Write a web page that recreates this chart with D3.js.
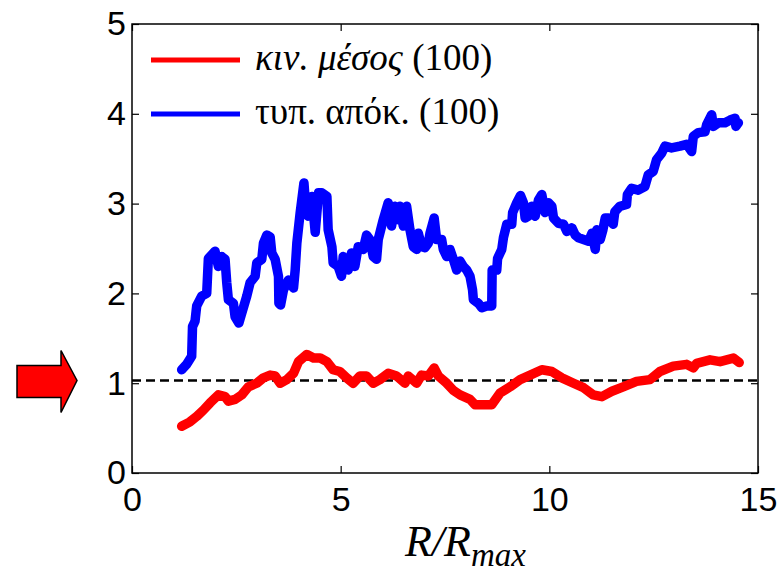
<!DOCTYPE html>
<html>
<head>
<meta charset="utf-8">
<script src="https://cdn.jsdelivr.net/npm/d3@7"></script>
<style>
  body { margin: 0; background: #fff; }
  svg { display: block; }
</style>
</head>
<body>
<script>
// moving mean (red) and std dev (blue)
const meanX = [1.19, 1.39, 1.55, 1.71, 1.87, 2.07, 2.23, 2.31, 2.47, 2.63, 2.79, 2.99, 3.15, 3.31, 3.43, 3.55, 3.71, 3.87, 3.99, 4.19, 4.35, 4.51, 4.67, 4.82, 4.98, 5.14, 5.30, 5.46, 5.62, 5.78, 5.94, 6.14, 6.34, 6.54, 6.62, 6.82, 6.94, 7.10, 7.24, 7.34, 7.54, 7.70, 7.86, 8.10, 8.22, 8.42, 8.62, 8.82, 9.06, 9.30, 9.54, 9.82, 10.06, 10.30, 10.58, 10.82, 11.05, 11.26, 11.50, 11.77, 12.09, 12.41, 12.65, 12.97, 13.29, 13.45, 13.53, 13.85, 14.09, 14.41, 14.55];
const meanY = [0.52, 0.57, 0.63, 0.70, 0.78, 0.87, 0.85, 0.80, 0.82, 0.87, 0.96, 1.00, 1.06, 1.09, 1.08, 1.00, 1.04, 1.11, 1.24, 1.32, 1.28, 1.28, 1.24, 1.15, 1.13, 1.06, 1.00, 1.08, 1.08, 1.00, 1.04, 1.11, 1.08, 1.00, 1.08, 1.00, 1.09, 1.08, 1.17, 1.08, 1.00, 0.92, 0.87, 0.82, 0.76, 0.76, 0.76, 0.89, 0.96, 1.04, 1.09, 1.15, 1.13, 1.06, 1.00, 0.95, 0.87, 0.85, 0.91, 0.96, 1.02, 1.04, 1.13, 1.19, 1.21, 1.17, 1.22, 1.26, 1.24, 1.28, 1.23];

const stdX = [1.19, 1.31, 1.43, 1.45, 1.51, 1.55, 1.67, 1.79, 1.83, 1.99, 2.07, 2.15, 2.23, 2.27, 2.31, 2.43, 2.47, 2.56, 2.63, 2.75, 2.83, 2.95, 2.99, 3.11, 3.15, 3.23, 3.31, 3.35, 3.43, 3.51, 3.52, 3.56, 3.63, 3.75, 3.87, 3.91, 3.95, 4.03, 4.12, 4.15, 4.22, 4.31, 4.39, 4.47, 4.55, 4.67, 4.70, 4.79, 4.82, 4.94, 5.02, 5.06, 5.18, 5.26, 5.34, 5.42, 5.54, 5.62, 5.70, 5.78, 5.86, 5.90, 6.02, 6.14, 6.22, 6.30, 6.38, 6.42, 6.50, 6.58, 6.66, 6.74, 6.82, 6.86, 6.94, 7.02, 7.10, 7.14, 7.24, 7.30, 7.42, 7.46, 7.54, 7.62, 7.70, 7.78, 7.86, 7.94, 8.02, 8.10, 8.16, 8.18, 8.30, 8.38, 8.50, 8.62, 8.63, 8.74, 8.76, 8.86, 8.90, 8.98, 9.10, 9.12, 9.22, 9.31, 9.38, 9.42, 9.50, 9.58, 9.66, 9.74, 9.82, 9.90, 9.98, 10.06, 10.10, 10.22, 10.34, 10.42, 10.54, 10.62, 10.70, 10.82, 10.94, 11.02, 11.10, 11.14, 11.22, 11.28, 11.34, 11.42, 11.53, 11.57, 11.69, 11.85, 11.87, 11.97, 12.13, 12.29, 12.37, 12.49, 12.57, 12.69, 12.77, 12.93, 13.13, 13.29, 13.41, 13.45, 13.57, 13.73, 13.77, 13.89, 13.93, 14.05, 14.21, 14.33, 14.45, 14.47, 14.53];
const stdY = [1.15, 1.21, 1.30, 1.63, 1.69, 1.86, 1.97, 2.00, 2.39, 2.47, 2.30, 2.41, 2.38, 2.12, 1.93, 1.89, 1.74, 1.67, 1.78, 1.97, 2.12, 2.19, 2.34, 2.38, 2.56, 2.65, 2.63, 2.45, 2.38, 2.19, 1.89, 1.87, 2.04, 2.15, 2.06, 2.26, 2.56, 2.90, 3.23, 3.04, 2.86, 3.08, 2.68, 3.12, 3.12, 3.08, 2.71, 2.52, 2.34, 2.30, 2.19, 2.41, 2.26, 2.45, 2.30, 2.52, 2.49, 2.65, 2.60, 2.41, 2.38, 2.60, 2.82, 3.01, 2.75, 2.97, 2.82, 2.97, 2.75, 2.97, 2.71, 2.52, 2.49, 2.67, 2.52, 2.51, 2.56, 2.67, 2.84, 2.60, 2.60, 2.49, 2.41, 2.49, 2.38, 2.26, 2.36, 2.30, 2.26, 2.19, 2.04, 1.93, 1.89, 1.84, 1.86, 1.86, 2.26, 2.26, 2.39, 2.49, 2.62, 2.77, 2.77, 2.90, 3.01, 3.09, 3.01, 2.84, 2.86, 2.97, 2.86, 3.04, 3.10, 2.90, 3.01, 2.97, 2.84, 2.78, 2.77, 2.69, 2.73, 2.65, 2.62, 2.60, 2.58, 2.67, 2.49, 2.71, 2.60, 2.70, 2.84, 2.84, 2.77, 2.91, 2.97, 2.99, 3.10, 3.17, 3.15, 3.19, 3.32, 3.36, 3.49, 3.56, 3.64, 3.62, 3.64, 3.66, 3.58, 3.75, 3.79, 3.80, 3.88, 3.99, 3.86, 3.90, 3.90, 3.93, 3.95, 3.86, 3.90];

const refLevel = 1.03;
const xTicks = [0, 5, 10, 15];
const yTicks = [0, 1, 2, 3, 4, 5];
const legendLabels = ["κιν. μέσος", "τυπ. απόκ."];

const W = 780, H = 574;
const m = { left: 132, right: 22, top: 24, bottom: 101 };

const svg = d3.select("body").append("svg")
    .attr("width", W)
    .attr("height", H);

const x = d3.scaleLinear().domain([0, 15]).range([m.left, W - m.right]);
const y = d3.scaleLinear().domain([0, 5]).range([H - m.bottom, m.top]);

const tickFont = "'Liberation Sans', Arial, sans-serif";

function styleAxis(g, labels) {
    g.select(".domain").remove();
    g.selectAll(".tick line").attr("stroke", "#000").attr("stroke-width", 1.2);
    g.selectAll(".tick text")
        .attr("font-family", tickFont)
        .attr("font-size", "34px")
        .attr("fill", "#000");
    if (!labels) g.selectAll(".tick text").remove();
}

svg.append("g")
    .attr("transform", `translate(0,${y(0)})`)
    .call(d3.axisBottom(x).tickValues(xTicks).tickFormat(d3.format("d")).tickSize(-7).tickPadding(14))
    .call(g => styleAxis(g, true));

svg.append("g")
    .attr("transform", `translate(0,${y(5)})`)
    .call(d3.axisTop(x).tickValues(xTicks).tickSize(-7))
    .call(g => styleAxis(g, false));

svg.append("g")
    .attr("transform", `translate(${x(0)},0)`)
    .call(d3.axisLeft(y).tickValues(yTicks).tickFormat(d3.format("d")).tickSize(-7).tickPadding(6))
    .call(g => styleAxis(g, true));

svg.append("g")
    .attr("transform", `translate(${x(15)},0)`)
    .call(d3.axisRight(y).tickValues(yTicks).tickSize(-7))
    .call(g => styleAxis(g, false));

// frame
svg.append("rect")
    .attr("x", x(0))
    .attr("y", y(5))
    .attr("width", x(15) - x(0))
    .attr("height", y(0) - y(5))
    .attr("fill", "none")
    .attr("stroke", "#000")
    .attr("stroke-width", 1.5);

// reference level
svg.append("line")
    .attr("x1", x(0)).attr("x2", x(15))
    .attr("y1", y(refLevel)).attr("y2", y(refLevel))
    .attr("stroke", "#000")
    .attr("stroke-width", 2.5)
    .attr("stroke-dasharray", "9,5");

const line = d3.line()
    .x(d => x(d[0]))
    .y(d => y(d[1]));

const series = [
    { xs: stdX, ys: stdY, color: "#0000ff" },
    { xs: meanX, ys: meanY, color: "#ff0000" }
];

series.forEach(s => {
    svg.append("path")
        .datum(s.xs.map((v, i) => [v, s.ys[i]]))
        .attr("d", line)
        .attr("fill", "none")
        .attr("stroke", s.color)
        .attr("stroke-width", 9.5)
        .attr("stroke-linejoin", "round")
        .attr("stroke-linecap", "round");
});

// legend
const legend = [
    { label: legendLabels[0], color: "#ff0000", italic: true, y: 60 },
    { label: legendLabels[1], color: "#0000ff", italic: false, y: 114 }
];

legend.forEach(l => {
    svg.append("line")
        .attr("x1", 151).attr("x2", 240)
        .attr("y1", l.y).attr("y2", l.y)
        .attr("stroke", l.color)
        .attr("stroke-width", 5);
    const t = svg.append("text")
        .attr("x", 255)
        .attr("y", l.y + 10)
        .attr("font-family", "'Liberation Serif', 'Times New Roman', serif")
        .attr("font-size", "37px")
        .attr("fill", "#000");
    t.append("tspan")
        .attr("font-style", l.italic ? "italic" : "normal")
        .text(l.label);
    t.append("tspan").text(" (100)");
});

// x label R/R_max
const xl = svg.append("text")
    .attr("x", 405)
    .attr("y", 556)
    .attr("font-family", "'Liberation Serif', 'Times New Roman', serif")
    .attr("font-style", "italic")
    .attr("font-size", "44px")
    .attr("fill", "#000");
xl.append("tspan").text("R/R");
xl.append("tspan").attr("font-size", "33px").attr("dy", 10).text("max");

// red arrow pointing at the reference level
const ay = y(refLevel);
svg.append("path")
    .attr("d", `M17,${ay - 15} H61 V${ay - 30} L77,${ay} L61,${ay + 32} V${ay + 17} H17 Z`)
    .attr("fill", "#ff0000")
    .attr("stroke", "#000")
    .attr("stroke-width", 1.5);
</script>
</body>
</html>
